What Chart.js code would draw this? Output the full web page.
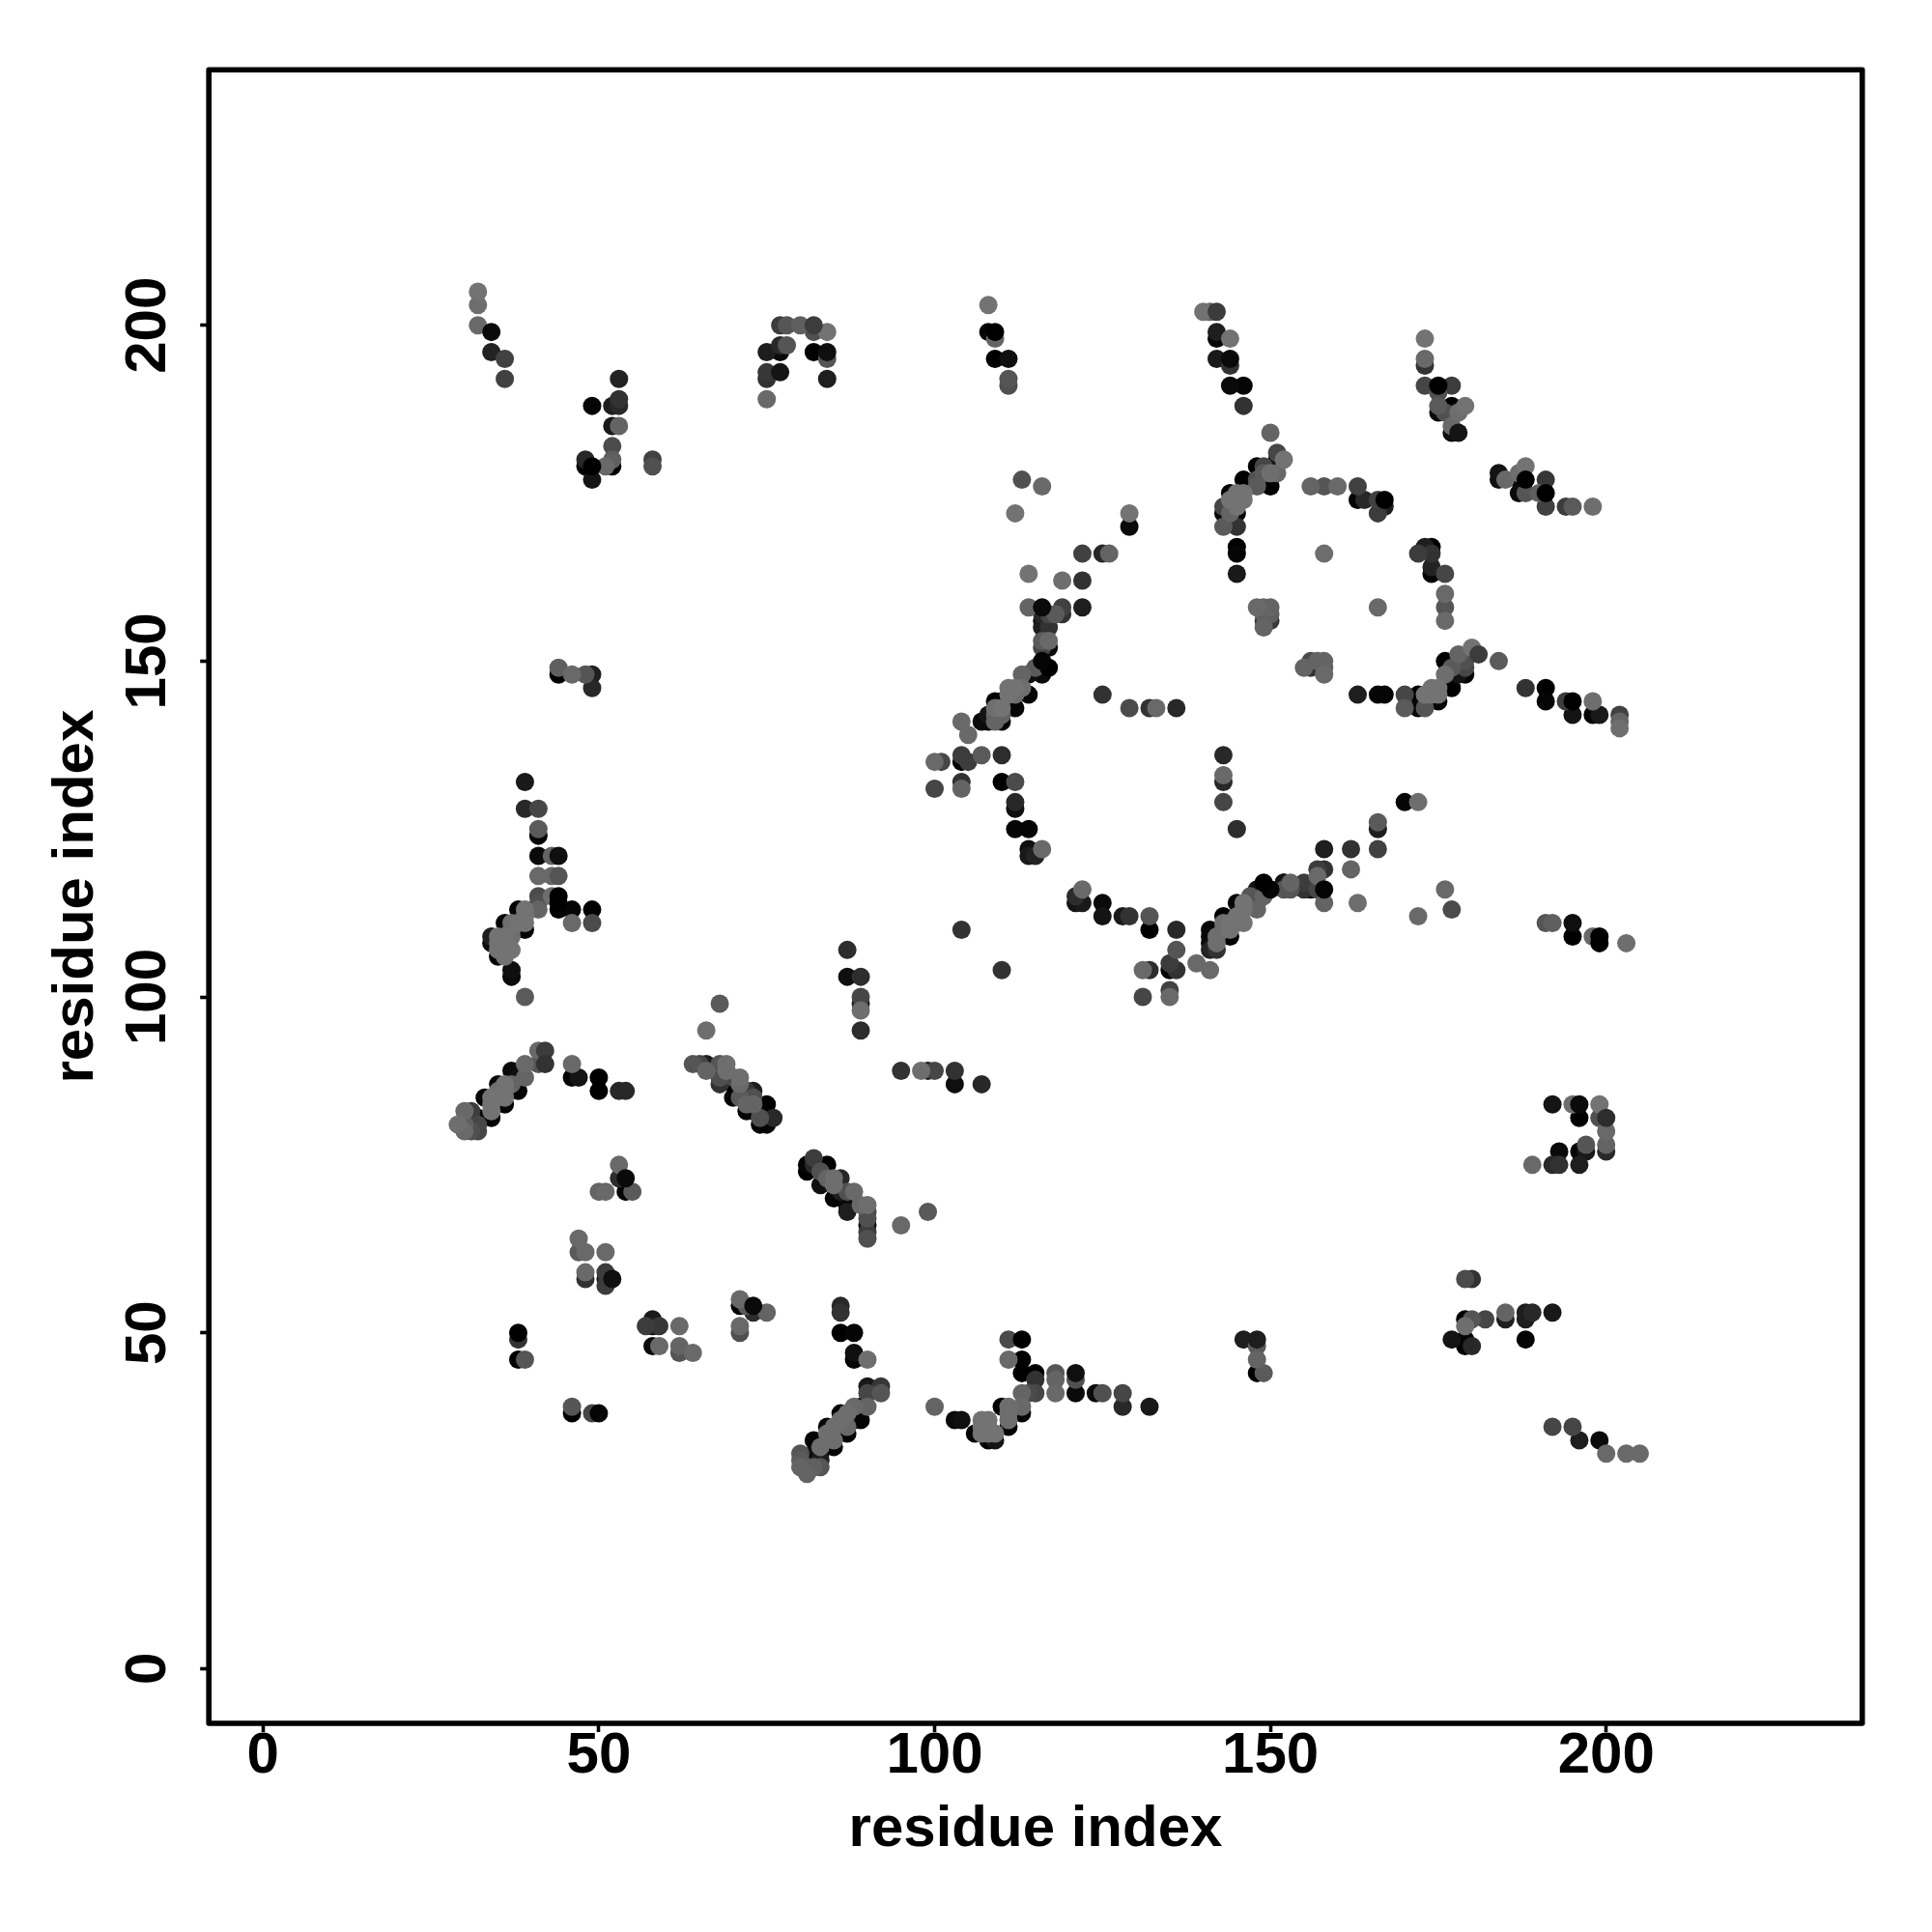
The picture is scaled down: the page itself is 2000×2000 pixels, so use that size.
<!DOCTYPE html>
<html>
<head>
<meta charset="utf-8">
<style>
  html, body { margin: 0; padding: 0; background: #fff; }
  canvas { display: block; }
</style>
<script src="https://cdn.jsdelivr.net/npm/chart.js@4/dist/chart.umd.js"></script>
</head>
<body>
<canvas id="canvas1" width="2000" height="2000"></canvas>
<script>
// each contact is [residue x, residue y, grey level]
const topLeftContacts = [
  [32,205,115],[32,203,110],[32,200,105],[34,196,35],[36,195,65],[36,192,65],
  [53,192,35],[49,188,5],[52,188,30],[53,188,40],[53,189,50],[52,185,25],[53,185,100],
  [52,182,75],[52,180,95],[48,180,40],[48,179,0],[51,179,105],[52,179,0],[49,177,20],
  [58,180,65],[58,179,80],
  [77,200,60],[78,200,85],[80,200,95],[82,199,80],[84,199,115],[77,197,40],[78,197,85],
  [75,196,30],[77,196,10],[82,196,0],[84,195,85],[75,193,55],[75,192,50],[84,192,30],[75,189,105],
  [44,149,95],[44,148,0],[46,148,105],[48,148,85],[49,148,30],[49,146,40]
];
const topMiddleContacts = [
  [108,203,115],[108,199,5],[109,198,100],[109,195,0],[111,195,15],[111,192,85],[111,191,80],
  [113,177,80],[116,176,105],[112,172,115],[129,172,115],[129,170,10],[122,166,65],[125,166,40],[126,166,100],
  [114,163,115],[119,162,110],[122,162,50],[122,158,30],[114,158,100],[119,158,65],[119,157,50],
  [116,157,40],[117,157,70],[118,157,90],[116,156,15],[117,155,50],[116,155,30],[116,153,90],[117,153,105],
  [116,152,70],[117,152,10],[115,149,90],[116,148,10],[113,148,100],[114,148,15],
  [150,184,100],[151,181,70],[152,180,115],[151,180,20],[148,179,0],[149,179,70],[151,178,105],[150,178,110],
  [146,177,0],[149,178,90],[148,177,80],[150,176,0],[148,176,90],[144,175,5],[145,175,115],[146,175,115],
  [146,174,115],[144,174,115],[143,173,70],[145,173,115],[143,172,10],[144,172,100],[145,172,5],[143,170,90],
  [145,170,50],[145,167,0],[145,166,5],[145,163,25],
  [140,202,115],[141,202,100],[142,199,30],[142,198,5],[144,198,115],[142,195,25],[144,194,50],
  [144,191,10],[146,191,5],[146,188,50],
  [148,158,105],[149,158,100],[150,158,100],[149,157,95],[150,157,95],[149,156,60],[150,156,55],[149,155,100]
];
const topRightContacts = [
  [173,198,115],[173,195,105],[173,194,50],[173,191,70],[177,191,60],[175,190,80],[175,188,90],[177,188,0],
  [179,188,115],[175,187,10],[176,187,80],[177,187,10],[178,187,110],[177,185,105],[177,184,15],
  [184,178,20],[184,177,15],[185,177,105],[187,178,110],[188,179,115],[187,177,5],[191,177,55],[187,175,10],
  [188,175,85],[190,175,95],[191,173,65],[194,173,60],[195,173,90],[198,173,110],
  [156,176,100],[158,176,85],[160,176,105],[163,176,65],[163,174,5],[164,174,40],[166,174,65],[167,173,30],[166,172,60],
  [158,166,110],[173,167,30],[174,167,0],[172,166,60],[174,166,50],[174,164,35],[174,163,5],[176,163,70],
  [176,160,105],[176,158,85],[176,156,105],[166,158,105],
  [155,149,100],[156,150,75],[157,150,100],[158,150,100],[158,149,95],[156,149,50],[158,148,105],
  [180,152,115],[184,150,90],[178,151,100],[179,150,80],[176,150,0],[177,149,90],[179,149,70],[176,148,110],
  [178,148,20],[179,148,5],[188,146,50],[191,146,0]
];
const rightMiddleContacts = [
  [163,145,30],[166,145,5],[167,145,5],[170,145,70],[170,143,90],[172,145,0],[172,143,5],[173,145,115],[173,143,85],
  [174,146,115],[175,146,115],[174,145,115],[175,145,115],[175,144,5],[173,144,10],[177,146,0],[191,144,5],
  [194,144,60],[195,142,20],[198,144,110],[198,142,5],[199,142,25],[202,142,65],[202,141,100],[202,140,110],
  [170,129,5],[172,129,110],[166,126,90],[166,125,30],[166,122,65],[162,122,50],[158,122,30],[162,119,100],[163,114,110],
  [158,119,50],[157,119,60],[157,118,105],[158,114,100],[152,117,20],[153,117,100],[153,116,85],[152,116,85],
  [155,117,60],[156,116,15],[155,116,50],[157,116,70],[176,116,105],[177,113,75],[172,112,105],
  [191,111,85],[192,111,95],[195,111,15],[195,109,0],[198,109,105],[203,108,110],[148,114,10],[148,113,100]
];
const centreContacts = [
  [111,146,115],[112,146,115],[113,146,110],[114,145,5],[112,145,110],[111,145,115],[112,143,5],[110,144,5],[109,144,0],
  [110,143,115],[109,143,110],[107,141,10],[108,141,5],[110,141,5],[109,141,100],[109,142,100],[110,142,100],[108,142,20],
  [104,141,105],[105,139,105],[104,136,60],[104,135,5],[105,135,60],[107,136,90],[110,136,45],
  [100,135,105],[101,135,70],[100,131,70],[104,132,50],[104,131,100],[110,132,0],[112,132,75],
  [112,129,40],[112,128,15],[112,125,5],[114,125,5],[114,122,15],[116,122,105],[114,121,25],[115,121,35],
  [125,145,50],[129,143,75],[132,143,50],[133,143,105],[136,143,40],
  [143,136,40],[143,133,105],[143,132,40],[143,129,70],[145,125,45],
  [122,116,105],[121,115,45],[121,114,20],[122,114,25],[125,114,10],[125,112,20],[128,112,25],[129,112,50],
  [132,112,85],[132,110,0],[136,110,40],[136,107,85],[135,105,60],[135,104,5],[136,104,50],[131,104,105],[132,104,45],
  [139,105,105],[141,104,105],[131,100,70],[135,101,65],[135,100,105],[104,110,50],[110,104,50],
  [141,110,5],[141,109,10],[141,108,10],[141,107,35],[142,108,110],[142,109,110],[142,107,50],
  [143,112,0],[144,111,115],[143,111,110],[143,110,110],[144,109,0],[144,110,115],
  [145,114,5],[146,114,115],[146,113,115],[146,111,115],[145,112,115],[145,111,115],
  [148,116,20],[148,114,85],[149,115,100],[152,117,10],[147,115,85]
];
const lowerMiddleContacts = [
  [95,89,50],[98,89,110],[99,89,30],[100,89,70],[103,89,50],[103,87,15],[107,87,40],
  [89,103,45],[89,100,70],[89,99,30],[89,98,110],[89,95,45],[87,107,45],[87,103,15]
];
const leftContacts = [
  [39,132,25],[39,128,40],[41,128,70],[41,125,90],[41,124,5],[41,121,10],[43,121,100],
  [41,118,105],[43,118,105],[41,115,75],[43,115,110],[41,114,80],[41,113,100],[44,113,5],[46,113,5],[49,113,0],
  [46,111,105],[49,111,75],[38,113,5],[39,113,115],[39,112,115],[39,111,115],[39,110,5],[38,111,115],
  [36,111,5],[37,111,110],[37,110,110],[37,109,110],[36,109,115],[34,109,30],[34,108,10],[35,109,115],[35,108,115],
  [36,108,115],[37,107,115],[35,107,115],[36,107,115],[35,106,0],[36,106,115],[37,104,15],[37,103,10],[39,100,90],
  [68,99,90],[66,95,110]
];
const bottomLeftContacts = [
  [41,92,105],[41,90,85],[39,90,105],[37,89,10],[39,88,100],[38,88,15],[38,86,5],[37,87,100],
  [35,87,5],[36,87,115],[36,86,115],[35,86,110],[36,84,5],[36,85,115],[33,85,5],[34,85,115],[34,84,115],[34,83,115],[34,82,5],
  [30,83,105],[31,83,60],[31,82,50],[32,82,5],[31,81,55],[32,81,70],[29,81,110],[30,81,95],[30,80,105],[31,80,80],[32,80,70],
  [46,90,105],[46,88,5],[47,88,20],[50,88,0],[50,86,0],[53,86,40],[54,86,40],
  [64,90,85],[65,90,70],[66,90,30],[66,89,100],[68,90,85],[69,90,110],[68,88,80],[69,89,110],[68,87,50],[70,88,70],[71,88,110],
  [70,87,5],[70,85,5],[71,87,105],[71,85,90],[72,86,55],[73,86,30],[73,85,80],[72,83,5],[73,83,5],[75,84,0],[74,82,80],
  [74,81,5],[75,81,5],[76,82,40],[72,84,100],[73,84,100],
  [53,75,105],[53,73,45],[50,71,100],[51,71,105],[54,71,5],[55,71,90],
  [47,64,105],[47,62,90],[48,62,105],[51,62,105],[48,59,105],[48,58,50],[51,59,60],[51,58,25],[51,57,60],
  [38,49,50],[38,46,0],[39,46,85],[46,39,85],[46,38,0],[49,38,70],
  [58,52,25],[57,51,60],[58,51,20],[59,51,55],[62,51,105],[58,48,10],[59,48,105],[62,48,100],[62,47,85],[64,47,105],
  [71,55,105],[71,54,5],[72,54,90],[73,53,45],[75,53,100],[71,51,105],[71,50,80],
  [86,54,40],[86,53,50],[86,50,0],[88,50,5],[88,47,15],[88,46,5]
];
const bottomDiagonalContacts = [
  [80,32,85],[81,29,100],[80,30,100],[80,31,90],[81,30,90],[82,30,95],[83,30,85],[83,31,30],[82,34,5],[83,33,110],[83,32,5],[82,32,15],
  [84,36,5],[85,36,110],[85,34,110],[85,33,5],[84,35,110],[86,38,5],[87,38,110],[87,36,105],[87,35,5],[86,37,110],
  [88,39,105],[89,39,5],[88,37,5],
  [82,76,60],[81,75,5],[84,75,0],[81,74,0],[82,75,40],[83,74,80],[83,72,15],[84,73,100],[86,73,40],[85,73,110],[85,72,110],
  [85,70,5],[86,71,30],[88,71,105],[87,71,80],[87,69,10],[87,68,30],[89,69,105],
  [90,69,110],[90,67,80],[90,68,70],[90,66,15],[90,65,60],[90,64,80],[95,66,105],[99,68,90]
];
const bottomMiddleContacts = [
  [90,46,110],[90,42,25],[92,42,55],[92,41,85],[90,41,70],[90,39,100],[89,37,5],[100,39,100],
  [103,37,10],[104,37,15],[106,35,5],[107,37,115],[108,37,115],[107,36,115],[108,36,115],[108,35,115],[107,35,115],[109,35,115],
  [108,34,5],[109,34,20],[111,36,5],[111,37,110],[110,39,0],[111,39,110],[111,38,110],[113,38,5],[113,39,105],
  [111,49,75],[111,46,105],[113,46,0],[113,44,0],[115,44,0],[115,43,50],[113,41,100],[114,41,75],[115,41,70],
  [118,44,85],[118,43,100],[118,41,105],[121,43,80],[121,41,10],[124,41,10],[125,41,80],[128,41,70],[128,39,40],[132,39,25],
  [146,49,30],[148,48,90],[148,46,100],[148,44,0],[149,44,90]
];
const bottomRightContacts = [
  [192,84,20],[195,84,110],[196,82,0],[199,84,115],[199,82,80],[200,80,105],[200,78,100],[200,77,40],
  [193,77,10],[196,77,5],[197,77,25],[197,78,85],[189,75,105],[192,75,40],[193,75,50],[196,75,30],
  [179,58,75],[180,58,50],[179,52,0],[180,52,85],[179,51,110],[182,52,70],[185,53,100],[185,52,30],[188,53,30],[188,52,30],[189,53,40],[192,53,25],[188,49,5],
  [177,49,20],[179,49,5],[179,48,0],[180,48,40],
  [192,36,70],[195,36,70],[196,34,30],[199,34,10],[200,32,105],[203,32,105],[205,32,105]
];
// darker dots that lie over a paler neighbour
const contactsOnTop = [
  [34,199,10],[49,179,0],[84,196,15],[82,200,60],[77,193,20],[109,199,0],[144,195,10],[116,158,10],[167,174,0],[175,191,0],
  [188,177,0],[191,175,0],[178,184,20],[195,144,0],[181,151,60],[44,121,15],[44,118,85],[44,115,0],[44,114,0],[42,92,60],
  [42,90,50],[38,50,0],[50,38,5],[73,54,10],[54,73,10],[52,58,15],[113,49,0],[121,44,15],[148,49,30],[196,84,10],
  [200,82,45],[199,109,0],[199,108,0],[142,202,60],[117,149,0],[116,150,5],[158,116,5],[150,116,5],[149,117,0]
];
const tickValues = [0, 50, 100, 150, 200];
const axisTitle = "residue index";
const xMin = -8.07, xMax = 238.13;
const yMin = -8.15, yMax = 238.04;

function grey(v) {
  return 'rgb(' + v + ',' + v + ',' + v + ')';
}
function toDataset(rows, order) {
  return {
    data: rows.map(function (r) { return { x: r[0], y: r[1] }; }),
    pointBackgroundColor: rows.map(function (r) { return grey(r[2]); }),
    pointRadius: 9.5,
    pointBorderWidth: 0,
    showLine: false,
    order: order
  };
}

// pale dots go last so they sit over the dark ones
let under = [].concat(topLeftContacts, topMiddleContacts, topRightContacts, rightMiddleContacts, centreContacts,
  lowerMiddleContacts, leftContacts, bottomLeftContacts, bottomDiagonalContacts, bottomMiddleContacts, bottomRightContacts);
under.sort(function (a, b) { return a[2] - b[2]; });

const boldFont = { family: '"Liberation Sans", Arial, sans-serif', size: 60, weight: 'bold' };

// box around the plot and the rotated y tick labels
const framePlugin = {
  id: 'frame',
  afterDraw(chart) {
    const ctx = chart.ctx;
    const a = chart.chartArea;
    ctx.save();
    ctx.strokeStyle = '#000';
    ctx.lineWidth = 5.6;
    ctx.lineJoin = 'round';
    ctx.strokeRect(a.left, a.top, a.right - a.left, a.bottom - a.top);
    ctx.fillStyle = '#000';
    ctx.font = 'bold 60px "Liberation Sans", Arial, sans-serif';
    ctx.textAlign = 'center';
    ctx.textBaseline = 'alphabetic';
    tickValues.forEach(function (v) {
      ctx.save();
      ctx.translate(171, chart.scales.y.getPixelForValue(v));
      ctx.rotate(-Math.PI / 2);
      ctx.fillText(String(v), 0, 0);
      ctx.restore();
    });
    ctx.restore();
  }
};

new Chart(document.getElementById("canvas1"), {
  type: 'scatter',
  data: { datasets: [toDataset(contactsOnTop, 0), toDataset(under, 1)] },
  plugins: [framePlugin],
  options: {
    responsive: false,
    animation: false,
    layout: { padding: { top: 72.2, right: 72.2, left: 0, bottom: 0 } },
    plugins: { legend: { display: false }, tooltip: { enabled: false } },
    scales: {
      x: {
        type: 'linear',
        min: xMin,
        max: xMax,
        afterBuildTicks(scale) { scale.ticks = tickValues.map(function (v) { return { value: v }; }); },
        afterFit(scale) { scale.height = 216; },
        border: { display: false },
        grid: { drawOnChartArea: false, drawTicks: true, tickLength: 9, tickWidth: 3.6, tickColor: '#000' },
        ticks: { color: '#000', font: boldFont, padding: -11, maxRotation: 0, autoSkip: false },
        title: { display: true, text: axisTitle, color: '#000', font: boldFont, padding: { top: 0, bottom: 70 } }
      },
      y: {
        type: 'linear',
        min: yMin,
        max: yMax,
        afterBuildTicks(scale) { scale.ticks = tickValues.map(function (v) { return { value: v }; }); },
        afterFit(scale) { scale.width = 216.2; },
        border: { display: false },
        grid: { drawOnChartArea: false, drawTicks: true, tickLength: 9, tickWidth: 3.6, tickColor: '#000' },
        ticks: { display: false },
        title: { display: true, text: axisTitle, color: '#000', font: boldFont, padding: { top: 43, bottom: 0 } }
      }
    }
  }
});
</script>
</body>
</html>
